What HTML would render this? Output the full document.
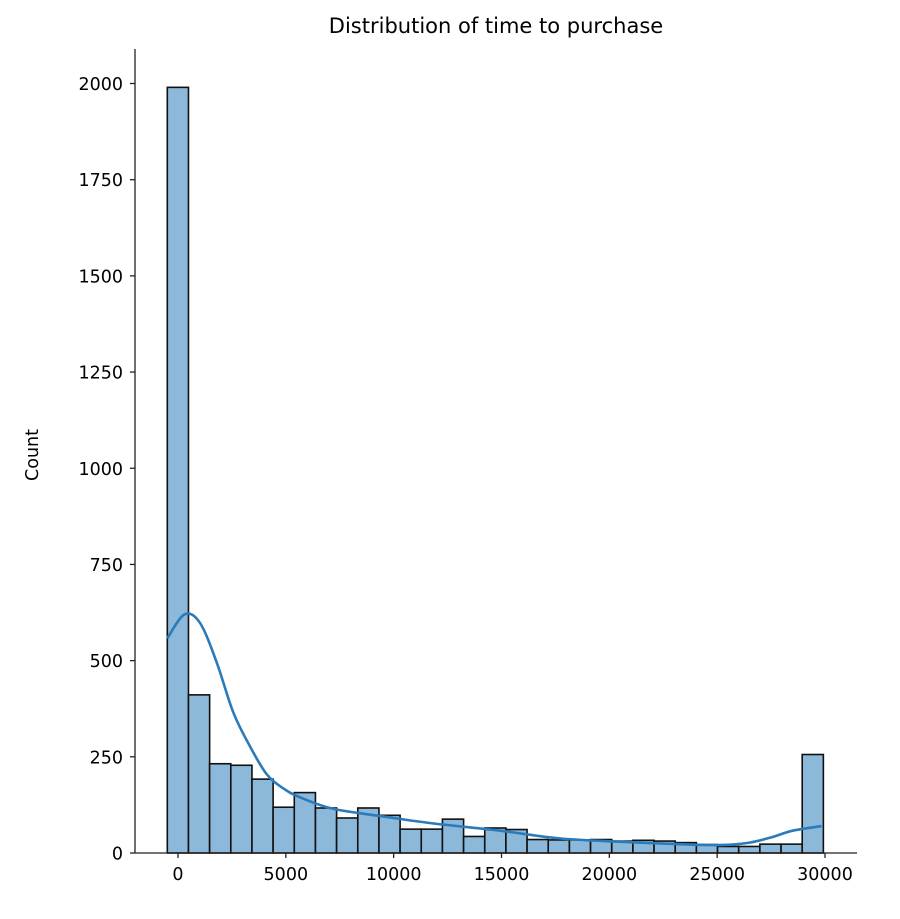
<!DOCTYPE html>
<html><head><meta charset="utf-8"><style>
body{margin:0;background:#fff;}
svg text{font-family:"DejaVu Sans","Liberation Sans",sans-serif;fill:#000;}
</style></head><body>
<svg id="chart" width="900" height="914" xmlns="http://www.w3.org/2000/svg">
<text x="496" y="33" font-size="21" text-anchor="middle">Distribution of time to purchase</text>
<text transform="translate(38,455) rotate(-90)" font-size="17.5" text-anchor="middle">Count</text>
<g id="bars"></g>
<path id="kde" fill="none" stroke="#2b7bba" stroke-width="2.6"/>
<g id="axes"></g>
</svg>
<script>
const binStart = -496;
const binWidth = 981.3;
const counts = [1990,411,232,228,192,119,157,117,91,117,98,62,62,88,43,65,61,35,34,34,35,31,33,31,27,22,17,17,23,23,256];
const kdeXs = [-496,300,1020,1790,2560,3330,4110,4880,5650,7190,9510,11820,14930,17680,20600,23700,25300,26500,27530,28500,29840];
const kdeYs = [558,620,598,496,366,278,205,168,145,115,95,77,58,38,29,22,21,27,41,58,70];
const xTicks = [0,5000,10000,15000,20000,25000,30000];
const yTicks = [0,250,500,750,1000,1250,1500,1750,2000];

const X = v => 178 + v * 647 / 30000;
const Y = v => 853 - v * (853 - 83.5) / 2000;
const NS = "http://www.w3.org/2000/svg";
const bars = document.getElementById('bars');
counts.forEach((c, i) => {
  const r = document.createElementNS(NS, 'rect');
  const x0 = X(binStart + i * binWidth), x1 = X(binStart + (i + 1) * binWidth);
  r.setAttribute('x', x0); r.setAttribute('width', x1 - x0);
  r.setAttribute('y', Y(c)); r.setAttribute('height', Y(0) - Y(c));
  r.setAttribute('fill', '#8cb8d9'); r.setAttribute('stroke', '#111'); r.setAttribute('stroke-width', '1.6');
  
  
  bars.appendChild(r);
});
const pts = kdeXs.map((x, i) => [X(x), Y(kdeYs[i])]);
let d = `M${pts[0][0]},${pts[0][1]}`;
for (let i = 0; i < pts.length - 1; i++) {
  const p0 = pts[Math.max(0, i - 1)], p1 = pts[i], p2 = pts[i + 1], p3 = pts[Math.min(pts.length - 1, i + 2)];
  d += ` C${p1[0] + (p2[0] - p0[0]) / 6},${p1[1] + (p2[1] - p0[1]) / 6} ${p2[0] - (p3[0] - p1[0]) / 6},${p2[1] - (p3[1] - p1[1]) / 6} ${p2[0]},${p2[1]}`;
}
document.getElementById('kde').setAttribute('d', d);

const axes = document.getElementById('axes');
function line(x1, y1, x2, y2, name) {
  const l = document.createElementNS(NS, 'line');
  l.setAttribute('x1', x1); l.setAttribute('y1', y1); l.setAttribute('x2', x2); l.setAttribute('y2', y2);
  l.setAttribute('stroke', '#222'); l.setAttribute('stroke-width', '1.3');
  
  
  axes.appendChild(l);
}
function text(x, y, s, anchor, name) {
  const t = document.createElementNS(NS, 'text');
  t.setAttribute('x', x); t.setAttribute('y', y); t.setAttribute('font-size', '17.5'); t.setAttribute('text-anchor', anchor);
  t.textContent = s;
  
  
  axes.appendChild(t);
}
line(135, 49, 135, 853, 'y-axis-spine');
line(135, 853, 857, 853, 'x-axis-spine');
xTicks.forEach(v => { line(X(v), 853, X(v), 858, 'x-tick'); text(X(v), 880, String(v), 'middle', 'x-tick-label'); });
yTicks.forEach(v => { line(130, Y(v), 135, Y(v), 'y-tick'); text(123, Y(v) + 6.5, String(v), 'end', 'y-tick-label'); });
</script>
</body></html>
